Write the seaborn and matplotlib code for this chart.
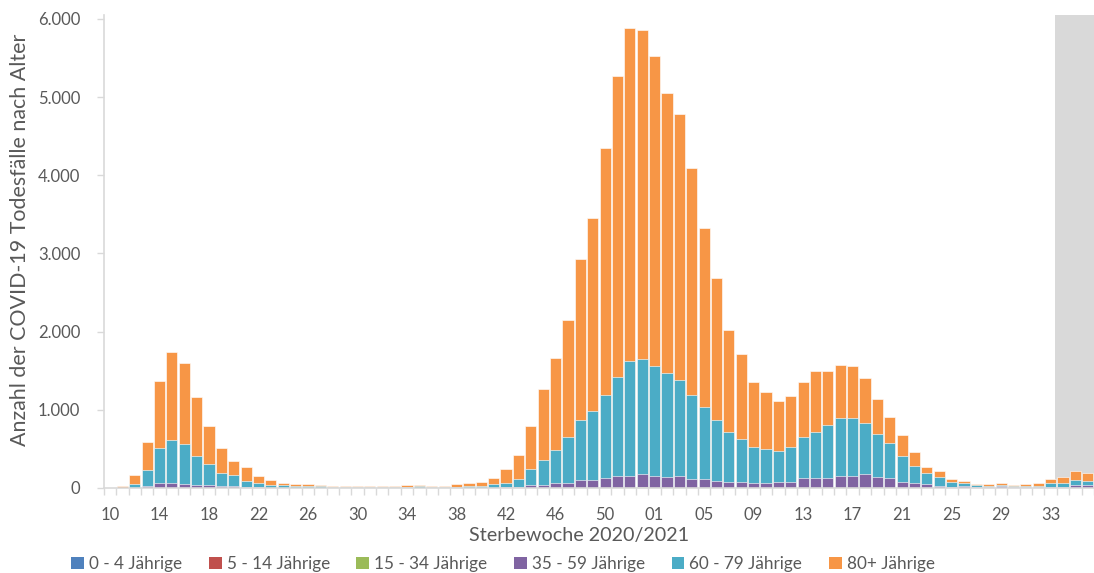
import numpy as np
import pandas as pd
import matplotlib
matplotlib.use("Agg")
import matplotlib.pyplot as plt
import seaborn as sns
from matplotlib.patches import Patch
from matplotlib.ticker import FuncFormatter

# ---------------- data ----------------
weeks_2020 = list(range(10, 54))   # KW 10 .. 53 (2020)
weeks_2021 = list(range(1, 37))    # KW 01 .. 36 (2021)
week_labels = [f"{w:02d}" for w in weeks_2020 + weeks_2021]

age_0_4 = [0] * 80
age_5_14 = [0] * 80
age_15_34 = [
    0, 0, 0, 1, 2, 3, 2, 2, 1, 1, 1, 0, 0, 0, 0, 0, 0, 0, 0, 0,
    0, 0, 0, 0, 0, 0, 0, 0, 0, 0, 0, 0, 1, 1, 1, 2, 2, 3, 4, 4,
    5, 6, 6, 7, 6, 5, 5, 4, 4, 3, 3, 3, 2, 2, 2, 2, 2, 3, 3, 3,
    3, 3, 3, 3, 2, 2, 1, 1, 1, 0, 0, 0, 0, 0, 0, 0, 1, 1, 1, 1,
]
age_35_59 = [
    0, 0, 5, 26, 64, 64, 51, 38, 38, 26, 26, 13, 8, 5, 5, 4, 4, 3, 2, 2,
    2, 2, 2, 2, 3, 3, 2, 2, 3, 4, 4, 6, 10, 15, 38, 38, 64, 64, 94, 94,
    124, 149, 149, 175, 149, 132, 149, 111, 109, 92, 77, 77, 64, 64, 77, 77, 132, 119, 119, 145,
    145, 171, 132, 119, 77, 64, 51, 26, 10, 26, 8, 10, 26, 8, 8, 8, 10, 12, 38, 38,
]
age_60_79 = [
    0, 5, 46, 204, 448, 541, 516, 367, 273, 162, 136, 77, 56, 33, 33, 22, 22, 23, 11, 8,
    8, 8, 8, 8, 12, 23, 10, 10, 12, 22, 22, 49, 58, 104, 205, 312, 422, 580, 772, 891,
    1061, 1262, 1467, 1467, 1403, 1335, 1224, 1074, 929, 772, 639, 541, 460, 435, 396, 447, 516, 597, 687, 742,
    742, 660, 554, 457, 324, 217, 137, 119, 67, 34, 26, 16, 12, 18, 18, 18, 54, 52, 69, 52,
]
age_80_plus = [
    5, 21, 111, 363, 861, 1130, 1036, 763, 482, 324, 188, 179, 85, 69, 26, 25, 25, 12, 13, 16,
    16, 16, 16, 16, 28, 12, 14, 14, 40, 42, 55, 69, 175, 299, 550, 916, 1173, 1501, 2059, 2465,
    3164, 3855, 4256, 4204, 3970, 3582, 3411, 2908, 2286, 1816, 1301, 1092, 832, 725, 640, 657, 708, 776, 686, 686,
    674, 568, 444, 324, 273, 175, 81, 68, 42, 34, 17, 25, 26, 12, 25, 38, 55, 81, 106, 106,
]

groups = ["0 - 4 Jährige", "5 - 14 Jährige", "15 - 34 Jährige",
          "35 - 59 Jährige", "60 - 79 Jährige", "80+ Jährige"]
series = [age_0_4, age_5_14, age_15_34, age_35_59, age_60_79, age_80_plus]
colors = ["#4F81BD", "#C0504D", "#9BBB59", "#8064A2", "#4BACC6", "#F79646"]

idx = np.arange(len(week_labels))
df = pd.DataFrame({g: s for g, s in zip(groups, series)})
df["pos"] = idx
cum = df[groups].cumsum(axis=1)

# ---------------- figure ----------------
sns.set_theme(style="white")
plt.rcParams["font.family"] = ["Lato", "DejaVu Sans"]
text_col = "#595959"
axis_col = "#D9D9D9"

W, H = 1094, 573
fig = plt.figure(figsize=(W / 100, H / 100), dpi=100)
ax = fig.add_axes([103.8 / W, 85 / H, (W - 103.8) / W, 473 / H])

ax.axvspan(76.35, 82, color="#D9D9D9", zorder=0, lw=0)

# draw cumulative layers from top (tallest) to bottom
for g, c in reversed(list(zip(groups, colors))):
    sns.barplot(x=df["pos"], y=cum[g], native_scale=True, color=c,
                saturation=1, width=0.9, errorbar=None, ax=ax,
                edgecolor=(1, 1, 1, 0.6), linewidth=0.7, zorder=2)

ax.set_xlim(-0.5, 79.0)
ax.set_ylim(0, 6050)

major = [i for i in idx if i % 4 == 0]
ax.set_xticks(major, [week_labels[i] for i in major])
ax.set_xticks(np.arange(-0.5, 80, 1), minor=True)
ax.tick_params(axis="x", which="major", length=0, pad=14, labelsize=12,
               labelcolor=text_col)
ax.tick_params(axis="x", which="minor", length=5, width=1, color=axis_col,
               direction="out", bottom=True)
ax.set_yticks(np.arange(0, 6001, 1000))
ax.yaxis.set_major_formatter(FuncFormatter(lambda v, p: f"{int(v):,}".replace(",", ".")))
ax.tick_params(axis="y", length=5, width=1, color=axis_col, pad=12,
               labelsize=12, labelcolor=text_col, left=True)

for s in ["top", "right"]:
    ax.spines[s].set_visible(False)
for s in ["left", "bottom"]:
    ax.spines[s].set_color(axis_col)
    ax.spines[s].set_linewidth(1.2)
    ax.spines[s].set_zorder(3)
ax.set_xlabel("")
ax.set_ylabel("")
ax.grid(False)

fig.text(20 / W, 1 - 240 / H, "Anzahl der COVID-19 Todesfälle nach Alter",
         rotation=90, ha="center", va="center", fontsize=15.4, color=text_col)
fig.text(579 / W, 1 - 535 / H, "Sterbewoche 2020/2021",
         ha="center", va="center", fontsize=14.2, color=text_col)

handles = [Patch(facecolor=c, edgecolor="none") for c in colors]
fig.legend(handles, groups, loc="center", ncol=6,
           bbox_to_anchor=(503 / W, 1 - 564 / H), frameon=False,
           fontsize=12.3, labelcolor=text_col, handlelength=0.75,
           handleheight=0.75, handletextpad=0.3, columnspacing=1.55)

fig.savefig("out.png", dpi=100)
